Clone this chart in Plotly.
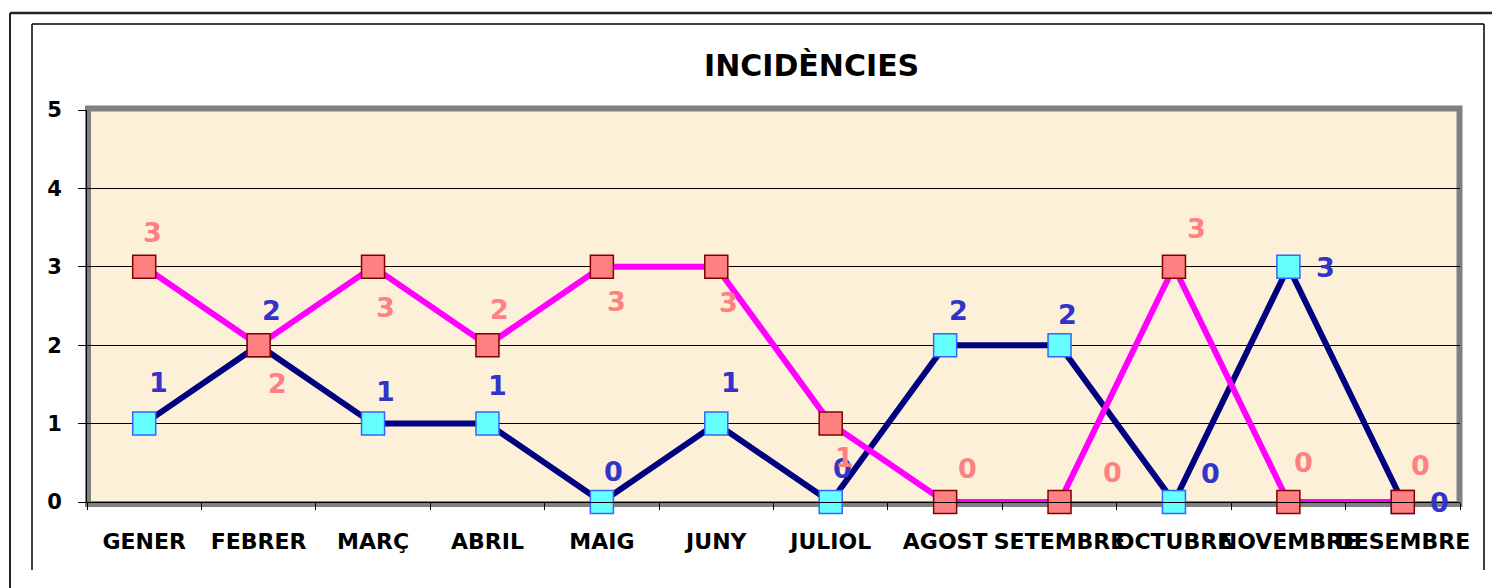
import plotly.graph_objects as go

# ---- data ----
months = ["GENER", "FEBRER", "MARÇ", "ABRIL", "MAIG", "JUNY", "JULIOL",
          "AGOST", "SETEMBRE", "OCTUBRE", "NOVEMBRE", "DESEMBRE"]
serie_blava = [1, 2, 1, 1, 0, 1, 0, 2, 2, 0, 3, 0]
serie_rosa = [3, 2, 3, 2, 3, 3, 1, 0, 0, 3, 0, 0]
y_ticks = [0, 1, 2, 3, 4, 5]
title_text = "INCIDÈNCIES"

# ---- label offsets in pixels (dx right, dy down) ----
off_blava = [(14, -41), (13, -35), (12, -32), (10, -38), (12, -31), (14, -41),
             (12, -34), (13, -35), (8, -31), (37, -29), (37, 1), (37, 0)]
off_rosa = [(8, -34), (19, 38), (12, 41), (12, -36), (15, 35), (12, 36),
            (14, 34), (22, -34), (53, -30), (23, -38), (15, -40), (18, -37)]

# page body has an 8px margin: the figure is shifted by it
SH = 8
W, H = 1500 - SH, 588 - SH
L, R, T, B = 87 - SH, 40, 110 - SH, 86
PW, PH = W - L - R, H - T - B


def px(x):
    """reference page pixel x -> paper"""
    return (x - SH - L) / PW


def py(y):
    """reference page pixel y -> paper"""
    return (H - B - (y - SH)) / PH


FONT = "DejaVu Sans"

fig = go.Figure()
fig.add_trace(go.Scatter(
    x=months, y=serie_blava, mode="lines+markers",
    line=dict(color="#000080", width=6),
    marker=dict(symbol="square", size=23, color="#66FFFF",
                line=dict(color="#3366FF", width=1.5)),
    cliponaxis=False, showlegend=False, hoverinfo="x+y"))
fig.add_trace(go.Scatter(
    x=months, y=serie_rosa, mode="lines+markers",
    line=dict(color="#FF00FF", width=6),
    marker=dict(symbol="square", size=23, color="#FF8080",
                line=dict(color="#800000", width=1.5)),
    cliponaxis=False, showlegend=False, hoverinfo="x+y"))

annotations = []
for m, v, (dx, dy) in zip(months, serie_blava, off_blava):
    annotations.append(dict(x=m, y=v, xref="x", yref="y", text=str(v),
                            showarrow=False, xshift=dx, yshift=-dy,
                            font=dict(family=FONT, size=27, color="#3333CC", weight="bold")))
for m, v, (dx, dy) in zip(months, serie_rosa, off_rosa):
    annotations.append(dict(x=m, y=v, xref="x", yref="y", text=str(v),
                            showarrow=False, xshift=dx, yshift=-dy,
                            font=dict(family=FONT, size=27, color="#FF8080", weight="bold")))
annotations.append(dict(x=px(811), y=py(66), xref="paper", yref="paper",
                        xanchor="center", yanchor="middle",
                        text=title_text, showarrow=False,
                        font=dict(family=FONT, size=30, color="black", weight="bold")))

shapes = [
    # plot area grey frame
    dict(type="rect", xref="paper", yref="paper", x0=px(88), x1=px(1459.5),
         y0=py(504), y1=py(108.5), line=dict(color="#808080", width=6), layer="between"),
    # outer frame
    dict(type="line", xref="paper", yref="paper", x0=px(10), x1=px(1520),
         y0=py(13), y1=py(13), line=dict(color="#222222", width=2.5)),
    dict(type="line", xref="paper", yref="paper", x0=px(10), x1=px(10),
         y0=py(13), y1=py(600), line=dict(color="#222222", width=2)),
    # inner frame
    dict(type="line", xref="paper", yref="paper", x0=px(32), x1=px(1484),
         y0=py(24), y1=py(24), line=dict(color="black", width=1.5)),
    dict(type="line", xref="paper", yref="paper", x0=px(32), x1=px(32),
         y0=py(24), y1=py(570), line=dict(color="black", width=1.5)),
    dict(type="line", xref="paper", yref="paper", x0=px(1484), x1=px(1484),
         y0=py(24), y1=py(570), line=dict(color="black", width=1.5)),
]

fig.update_layout(
    width=W, height=H,
    margin=dict(l=L, r=R, t=T, b=B, pad=0),
    paper_bgcolor="white",
    plot_bgcolor="#FCF0D8",
    font=dict(family=FONT, color="black"),
    annotations=annotations,
    shapes=shapes,
    xaxis=dict(type="category", categoryorder="array", categoryarray=months,
               range=[-0.5, len(months) - 0.5], tickson="boundaries",
               ticks="outside", ticklen=7, tickcolor="black", tickwidth=1,
               showline=True, linecolor="black", linewidth=1,
               showgrid=False, tickangle=0, ticklabelstandoff=20,
               tickfont=dict(family=FONT, size=22, color="black", weight="bold")),
    yaxis=dict(range=[0, 5], tickvals=y_ticks, ticks="outside", ticklen=8,
               tickcolor="black", tickwidth=1, showline=True, linecolor="black",
               linewidth=1, showgrid=True, gridcolor="black", gridwidth=1,
               zeroline=False, ticklabelstandoff=12,
               tickfont=dict(family=FONT, size=21, color="black", weight="bold")),
)

fig.write_html("out.html")
